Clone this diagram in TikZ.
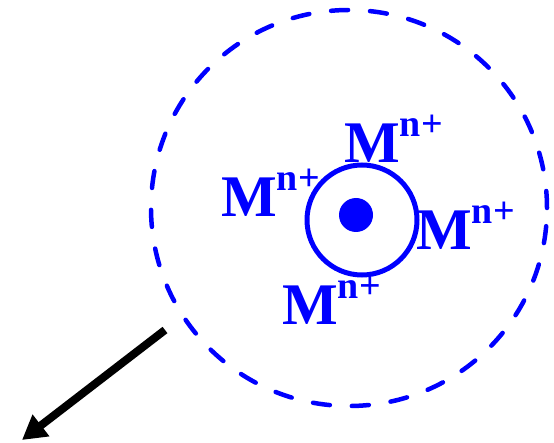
\documentclass[tikz,border=0pt]{standalone}
\usepackage{fontspec}
\setmainfont{Liberation Serif}
\usetikzlibrary{arrows.meta}
\begin{document}
\begin{tikzpicture}[x=1pt,y=-1pt,
  ion/.style={anchor=base west,inner sep=0pt,text=blue,font=\bfseries},
  shell/.style={draw=blue,line width=4.5pt,dash pattern=on 17pt off 22pt,line cap=round},
  core/.style={draw=blue,line width=5pt}]
\useasboundingbox (0,0) rectangle (554,443);
\newcommand{\ionlabel}{{\fontsize{59}{59}\selectfont M}{\fontsize{38}{38}\selectfont\raisebox{26pt}{n+}}}
\node[shell,circle,minimum size=396pt,inner sep=0pt] (outer) at (349,208) {};
\node[core,circle,minimum size=110pt,inner sep=0pt] (inner) at (362,220) {};
\node[circle,fill=blue,minimum size=34pt,inner sep=0pt] (dot) at (356,215) {};
\node[ion] (top) at (344,163) {\ionlabel};
\node[ion] (left) at (221,217) {\ionlabel};
\node[ion] (right) at (416,250) {\ionlabel};
\node[ion] (bottom) at (282,325) {\ionlabel};
\coordinate (a0) at (165,330);
\coordinate (a1) at (22,440);
\draw[line width=8pt,-{Triangle[length=24pt,width=26pt]}] (a0) -- (a1);
\end{tikzpicture}
\end{document}
